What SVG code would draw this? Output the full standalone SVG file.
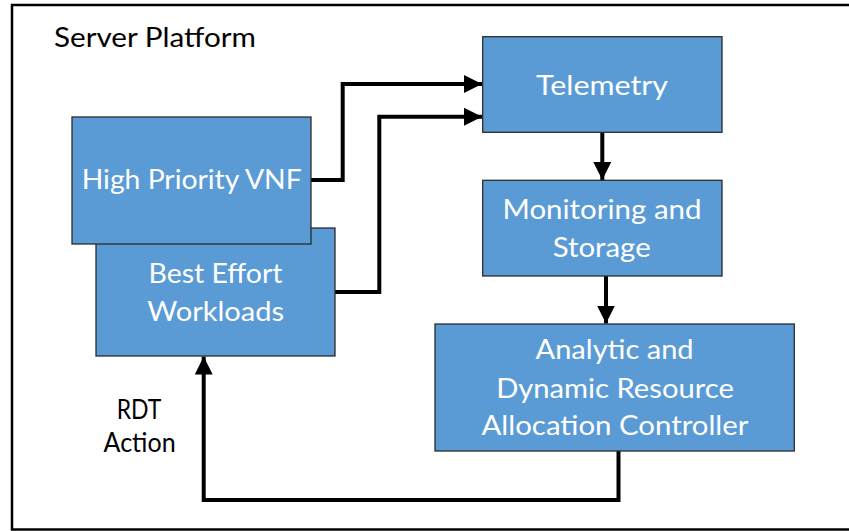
<svg xmlns="http://www.w3.org/2000/svg" width="849" height="531" viewBox="0 0 849 531">
<defs>
<style>
.box{fill:#5B9BD5;stroke:#2b2b2b;stroke-width:1.3}
.wt{font-family:Lato,"Open Sans",sans-serif;font-size:26px;fill:#ffffff;text-anchor:middle}
.bt{font-family:Lato,"Open Sans",sans-serif;font-size:26px;fill:#000000}
.ln{fill:none;stroke:#000;stroke-width:4;stroke-linejoin:miter}
</style>
<marker id="ah" markerUnits="userSpaceOnUse" markerWidth="18" markerHeight="18" viewBox="0 0 16 16" refX="16" refY="8" orient="auto">
<path d="M0,0 L16,8 L0,16 Z" fill="#000"/>
</marker>
</defs>
<rect x="0" y="0" width="849" height="531" fill="#fff"/>
<rect id="frame" x="12" y="5" width="850" height="524.5" fill="none" stroke="#000" stroke-width="2.5"/>
<text class="bt" x="54" y="47" textLength="202" lengthAdjust="spacingAndGlyphs">Server Platform</text>
<g id="connectors">
<path class="ln" d="M311,180 H342.7 V84 H482" marker-end="url(#ah)"/>
<path class="ln" d="M335,292 H379.3 V116.7 H482" marker-end="url(#ah)"/>
<path class="ln" d="M602.3,132.5 V180" marker-end="url(#ah)"/>
<path class="ln" d="M606,276 V323.5" marker-end="url(#ah)"/>
<path class="ln" d="M618.5,451 V500 H203.7 V356.5" marker-end="url(#ah)"/>
</g>
<g id="best-effort">
<rect class="box" x="96" y="228" width="239" height="128"/>
<text class="wt" x="215.5" y="282.7" textLength="134" lengthAdjust="spacingAndGlyphs">Best Effort</text>
<text class="wt" x="215.7" y="320.7" textLength="137" lengthAdjust="spacingAndGlyphs">Workloads</text>
</g>
<g id="high-priority">
<rect class="box" x="72" y="117" width="239" height="127"/>
<text class="wt" x="191.7" y="189" textLength="220" lengthAdjust="spacingAndGlyphs">High Priority VNF</text>
</g>
<g id="telemetry">
<rect class="box" x="482.7" y="36.7" width="239.3" height="95.6"/>
<text class="wt" x="602" y="95" textLength="132" lengthAdjust="spacingAndGlyphs">Telemetry</text>
</g>
<g id="monitoring">
<rect class="box" x="482.7" y="180.3" width="239.3" height="95.7"/>
<text class="wt" x="602" y="219" textLength="199" lengthAdjust="spacingAndGlyphs">Monitoring and</text>
<text class="wt" x="601.7" y="257.3" textLength="98" lengthAdjust="spacingAndGlyphs">Storage</text>
</g>
<g id="controller">
<rect class="box" x="435" y="324" width="359.3" height="127"/>
<text class="wt" x="614.6" y="359" textLength="158" lengthAdjust="spacingAndGlyphs">Analytic and</text>
<text class="wt" x="615" y="397.7" textLength="237.7" lengthAdjust="spacingAndGlyphs">Dynamic Resource</text>
<text class="wt" x="615" y="435" textLength="267" lengthAdjust="spacingAndGlyphs">Allocation Controller</text>
</g>
<g id="rdt-label">
<text class="bt" x="139" y="419" text-anchor="middle" font-size="22" textLength="44.7" lengthAdjust="spacingAndGlyphs">RDT</text>
<text class="bt" x="139.6" y="452" text-anchor="middle" font-size="22" textLength="72" lengthAdjust="spacingAndGlyphs">Action</text>
</g>
</svg>
